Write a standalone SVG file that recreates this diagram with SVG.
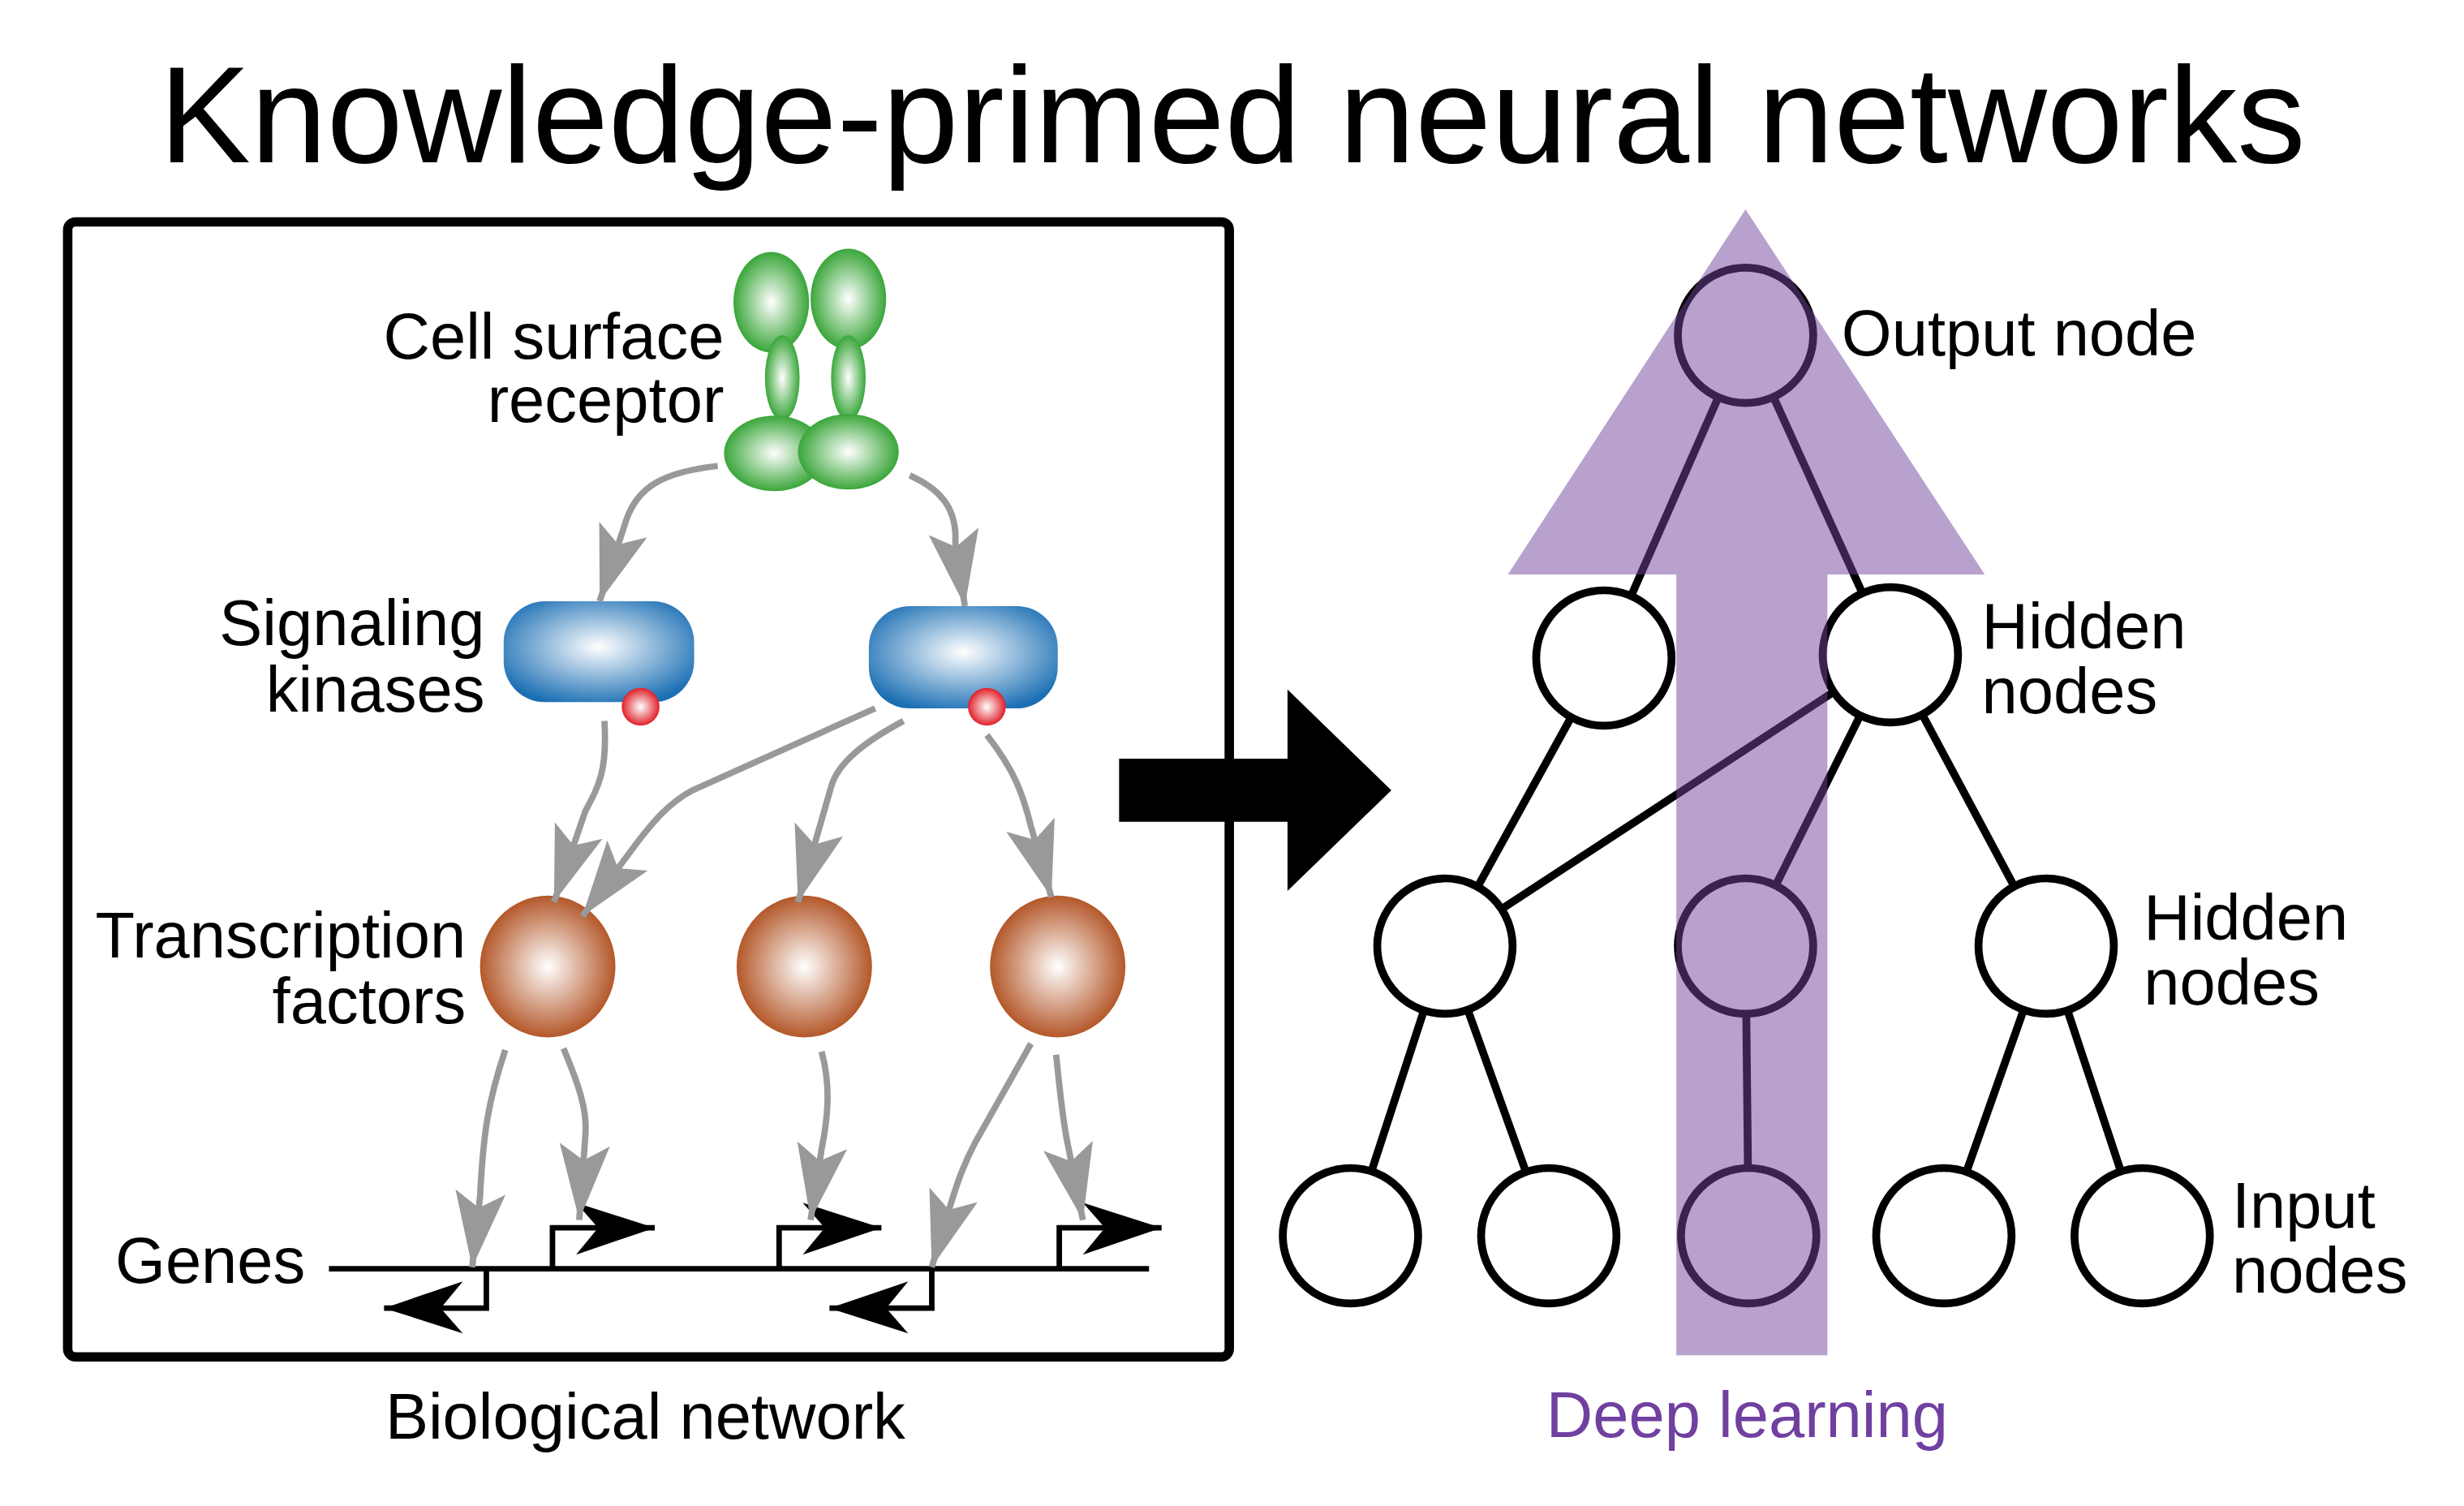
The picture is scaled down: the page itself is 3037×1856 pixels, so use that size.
<svg xmlns="http://www.w3.org/2000/svg" width="3037" height="1856" viewBox="0 0 3037 1856">
<defs>
<style>
text{font-family:"Liberation Sans",Arial,sans-serif;fill:#000}
.lbl{font-size:41px}
.g{fill:none;stroke:#999;stroke-width:4}
.pr{fill:none;stroke:#000;stroke-width:3.5}
.e{stroke:#000;stroke-width:5;fill:none}
.n{fill:#fff;stroke:#000;stroke-width:5}
</style>
<marker id="ga" markerUnits="userSpaceOnUse" orient="auto" markerWidth="60" markerHeight="40" refX="0" refY="0" viewBox="-50 -20 52 40" overflow="visible"><path d="M0,0 L-48,-16 L-38,0 L-48,16 Z" fill="#999"/></marker>
<marker id="ba" markerUnits="userSpaceOnUse" orient="auto" markerWidth="60" markerHeight="40" refX="0" refY="0" viewBox="-50 -20 52 40" overflow="visible"><path d="M0,0 L-50,-16 L-36,0 L-50,17 Z" fill="#000"/></marker>
<radialGradient id="gg"><stop offset="0" stop-color="#fff"/><stop offset="1" stop-color="#3aa63a"/></radialGradient>
<radialGradient id="bg" cx="0.5" cy="0.45" r="0.6"><stop offset="0" stop-color="#fff"/><stop offset="1" stop-color="#1c6fb4"/></radialGradient>
<radialGradient id="og"><stop offset="0" stop-color="#fff"/><stop offset="1" stop-color="#b4582a"/></radialGradient>
<radialGradient id="rg"><stop offset="0" stop-color="#fff"/><stop offset="1" stop-color="#e0202a"/></radialGradient>
</defs>
<rect width="3037" height="1856" fill="#fff"/>
<g transform="scale(1.94)">
<text x="783" y="103" font-size="87" text-anchor="middle">Knowledge-primed neural networks</text>
<g id="bio-box"><rect x="43" y="141" width="738" height="721" rx="5" fill="none" stroke="#000" stroke-width="6"/>
<text x="410" y="914" class="lbl" text-anchor="middle">Biological network</text></g>
<g id="receptor">
<ellipse cx="490" cy="192" rx="24" ry="32" fill="url(#gg)"/>
<ellipse cx="539" cy="190" rx="24" ry="32" fill="url(#gg)"/>
<ellipse cx="497" cy="240" rx="11" ry="27" fill="url(#gg)"/>
<ellipse cx="539" cy="240" rx="11" ry="27" fill="url(#gg)"/>
<ellipse cx="492" cy="288" rx="32" ry="24" fill="url(#gg)"/>
<ellipse cx="539" cy="287" rx="32" ry="24" fill="url(#gg)"/>
<text x="460" y="228" class="lbl" text-anchor="end">Cell surface</text>
<text x="460" y="268" class="lbl" text-anchor="end">receptor</text></g>
<g id="kinase1"><rect x="320" y="382" width="121" height="64" rx="26" fill="url(#bg)"/><circle cx="407" cy="449" r="12" fill="url(#rg)"/>
<text x="308" y="410" class="lbl" text-anchor="end">Signaling</text><text x="308" y="452" class="lbl" text-anchor="end">kinases</text></g>
<g id="kinase2"><rect x="552" y="385" width="120" height="65" rx="26" fill="url(#bg)"/><circle cx="627" cy="449" r="12" fill="url(#rg)"/></g>
<g id="tf1"><ellipse cx="348" cy="614" rx="43" ry="45" fill="url(#og)"/>
<text x="296" y="608" class="lbl" text-anchor="end">Transcription</text><text x="296" y="650" class="lbl" text-anchor="end">factors</text></g>
<g id="tf2"><ellipse cx="511" cy="614" rx="43" ry="45" fill="url(#og)"/></g>
<g id="tf3"><ellipse cx="672" cy="614" rx="43" ry="45" fill="url(#og)"/></g>
<g id="genes">
<text x="194" y="815" class="lbl" text-anchor="end">Genes</text>
<line x1="209" y1="806" x2="730" y2="806" stroke="#000" stroke-width="3.5"/>
<path class="pr" d="M351,806 V780 H416" marker-end="url(#ba)"/>
<path class="pr" d="M495,806 V780 H560" marker-end="url(#ba)"/>
<path class="pr" d="M673,806 V780 H738" marker-end="url(#ba)"/>
<path class="pr" d="M309,806 V831 H244" marker-end="url(#ba)"/>
<path class="pr" d="M592,806 V831 H527" marker-end="url(#ba)"/>
</g>
<g id="connectors">
<path class="g" d="M456,296 C420,300 405,310 398,330 L381,382" marker-end="url(#ga)"/>
<path class="g" d="M578,302 C600,312 608,325 607,345 L613,385" marker-end="url(#ga)"/>
<path class="g" d="M384,458 C386,490 380,500 372,515 L352,573" marker-end="url(#ga)"/>
<path class="g" d="M556,450 L440,502 C425,510 415,522 405,535 L370,582" marker-end="url(#ga)"/>
<path class="g" d="M574,458 C548,472 532,485 528,500 L507,573" marker-end="url(#ga)"/>
<path class="g" d="M627,467 C645,490 650,505 655,525 L668,570" marker-end="url(#ga)"/>
<path class="g" d="M321,667 C310,700 307,720 305,760 L300,805" marker-end="url(#ga)"/>
<path class="g" d="M358,666 C368,690 373,705 372,720 L368,775" marker-end="url(#ga)"/>
<path class="g" d="M522,668 C528,690 526,710 522,730 L515,775" marker-end="url(#ga)"/>
<path class="g" d="M655,663 L620,725 C612,740 608,752 604,765 L592,805" marker-end="url(#ga)"/>
<path class="g" d="M671,670 C674,700 676,715 678,725 L688,775" marker-end="url(#ga)"/>
</g>
<g id="big-arrow"><path d="M711,482 H818 V438 L884,502 L818,566 V522 H711 Z" fill="#000"/></g>
<g id="nn-edges">
<line class="e" x1="1109" y1="213" x2="1019" y2="418"/>
<line class="e" x1="1109" y1="213" x2="1201" y2="416"/>
<line class="e" x1="1019" y1="418" x2="918" y2="601"/>
<line class="e" x1="1201" y1="416" x2="918" y2="601"/>
<line class="e" x1="1201" y1="416" x2="1109" y2="601"/>
<line class="e" x1="1201" y1="416" x2="1300" y2="601"/>
<line class="e" x1="918" y1="601" x2="858" y2="785"/>
<line class="e" x1="918" y1="601" x2="984" y2="785"/>
<line class="e" x1="1109" y1="601" x2="1111" y2="785"/>
<line class="e" x1="1300" y1="601" x2="1235" y2="785"/>
<line class="e" x1="1300" y1="601" x2="1361" y2="785"/>
</g>
<g id="out"><circle class="n" cx="1109" cy="213" r="43"/></g>
<g id="h1a"><circle class="n" cx="1019" cy="418" r="43"/></g>
<g id="h1b"><circle class="n" cx="1201" cy="416" r="43"/></g>
<g id="h2a"><circle class="n" cx="918" cy="601" r="43"/></g>
<g id="h2b"><circle class="n" cx="1109" cy="601" r="43"/></g>
<g id="h2c"><circle class="n" cx="1300" cy="601" r="43"/></g>
<g id="i1"><circle class="n" cx="858" cy="785" r="43"/></g>
<g id="i2"><circle class="n" cx="984" cy="785" r="43"/></g>
<g id="i3"><circle class="n" cx="1111" cy="785" r="43"/></g>
<g id="i4"><circle class="n" cx="1235" cy="785" r="43"/></g>
<g id="i5"><circle class="n" cx="1361" cy="785" r="43"/></g>
<g id="deep-arrow"><path d="M1109,133 L1261,365 H1161 V861 H1065 V365 H958 Z" fill="#72469b" fill-opacity="0.5"/>
<text x="1110" y="913" font-size="41" text-anchor="middle" style="fill:#7040a0">Deep learning</text></g>
<g id="nn-labels">
<text x="1170" y="226" class="lbl">Output node</text>
<text x="1259" y="412" class="lbl">Hidden</text><text x="1259" y="453" class="lbl">nodes</text>
<text x="1362" y="597" class="lbl">Hidden</text><text x="1362" y="638" class="lbl">nodes</text>
<text x="1418" y="780" class="lbl">Input</text><text x="1418" y="821" class="lbl">nodes</text>
</g>
</g>
</svg>
